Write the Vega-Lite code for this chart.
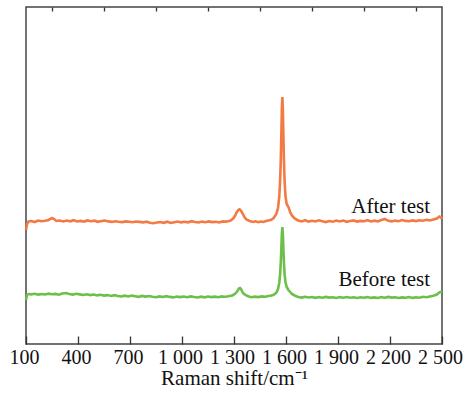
{
  "$schema": "https://vega.github.io/schema/vega-lite/v6.json",
  "width": 416,
  "height": 337,
  "autosize": "none",
  "padding": {"left": 26, "top": 7, "right": 22, "bottom": 50},
  "background": "white",
  "config": {
    "view": {"stroke": "#444444", "strokeWidth": 1.5},
    "font": "Liberation Serif"
  },
  "datasets": {
    "spectra": [
      {"series":"After test","x":100,"y":114},{"series":"After test","x":106,"y":120},{"series":"After test","x":115,"y":122.5},{"series":"After test","x":130,"y":123},{"series":"After test","x":150,"y":122},{"series":"After test","x":170,"y":123.5},{"series":"After test","x":190,"y":122.8},{"series":"After test","x":210,"y":123.2},{"series":"After test","x":230,"y":124},{"series":"After test","x":250,"y":126},{"series":"After test","x":262,"y":125},{"series":"After test","x":275,"y":123},{"series":"After test","x":295,"y":123.5},{"series":"After test","x":315,"y":122.6},{"series":"After test","x":335,"y":123.4},{"series":"After test","x":355,"y":122.7},{"series":"After test","x":375,"y":123.8},{"series":"After test","x":395,"y":122.5},{"series":"After test","x":415,"y":123.1},{"series":"After test","x":435,"y":122.4},{"series":"After test","x":455,"y":123.6},{"series":"After test","x":475,"y":122.8},{"series":"After test","x":495,"y":123.3},{"series":"After test","x":515,"y":122.2},{"series":"After test","x":535,"y":122.9},{"series":"After test","x":555,"y":123.5},{"series":"After test","x":575,"y":122.6},{"series":"After test","x":595,"y":122.1},{"series":"After test","x":615,"y":122.8},{"series":"After test","x":635,"y":122.3},{"series":"After test","x":655,"y":121.9},{"series":"After test","x":675,"y":122.6},{"series":"After test","x":695,"y":122.2},{"series":"After test","x":715,"y":121.8},{"series":"After test","x":735,"y":122.5},{"series":"After test","x":755,"y":122.1},{"series":"After test","x":775,"y":121.6},{"series":"After test","x":795,"y":122.3},{"series":"After test","x":815,"y":121.2},{"series":"After test","x":835,"y":120.8},{"series":"After test","x":855,"y":121.5},{"series":"After test","x":875,"y":121.9},{"series":"After test","x":895,"y":121.2},{"series":"After test","x":915,"y":122.3},{"series":"After test","x":935,"y":121.0},{"series":"After test","x":955,"y":121.8},{"series":"After test","x":975,"y":122.5},{"series":"After test","x":995,"y":121.6},{"series":"After test","x":1015,"y":122.2},{"series":"After test","x":1035,"y":121.7},{"series":"After test","x":1055,"y":122.8},{"series":"After test","x":1075,"y":122.0},{"series":"After test","x":1095,"y":121.5},{"series":"After test","x":1115,"y":122.4},{"series":"After test","x":1135,"y":121.8},{"series":"After test","x":1155,"y":122.6},{"series":"After test","x":1175,"y":121.9},{"series":"After test","x":1195,"y":122.3},{"series":"After test","x":1215,"y":121.6},{"series":"After test","x":1235,"y":122.6},{"series":"After test","x":1250,"y":122.4},{"series":"After test","x":1260,"y":122.5},{"series":"After test","x":1280,"y":123.5},{"series":"After test","x":1295,"y":125.5},{"series":"After test","x":1305,"y":128},{"series":"After test","x":1315,"y":131.5},{"series":"After test","x":1325,"y":134},{"series":"After test","x":1332,"y":134.7},{"series":"After test","x":1340,"y":133.5},{"series":"After test","x":1350,"y":130.5},{"series":"After test","x":1360,"y":127},{"series":"After test","x":1372,"y":124.5},{"series":"After test","x":1390,"y":123},{"series":"After test","x":1410,"y":122},{"series":"After test","x":1425,"y":122.7},{"series":"After test","x":1440,"y":121.8},{"series":"After test","x":1455,"y":122.5},{"series":"After test","x":1470,"y":122.0},{"series":"After test","x":1485,"y":123},{"series":"After test","x":1499,"y":123.6},{"series":"After test","x":1515,"y":124.2},{"series":"After test","x":1529,"y":126},{"series":"After test","x":1544,"y":130},{"series":"After test","x":1554,"y":136},{"series":"After test","x":1561,"y":147},{"series":"After test","x":1566,"y":162.5},{"series":"After test","x":1570,"y":184.5},{"series":"After test","x":1573,"y":208},{"series":"After test","x":1576,"y":234.5},{"series":"After test","x":1579,"y":247},{"series":"After test","x":1582,"y":234.5},{"series":"After test","x":1585,"y":208},{"series":"After test","x":1588,"y":184.5},{"series":"After test","x":1592,"y":162.5},{"series":"After test","x":1597,"y":148},{"series":"After test","x":1604,"y":140},{"series":"After test","x":1614,"y":137},{"series":"After test","x":1624,"y":132},{"series":"After test","x":1634,"y":128.5},{"series":"After test","x":1650,"y":125.5},{"series":"After test","x":1670,"y":123.5},{"series":"After test","x":1690,"y":122.6},{"series":"After test","x":1710,"y":123.8},{"series":"After test","x":1730,"y":122.4},{"series":"After test","x":1750,"y":123.2},{"series":"After test","x":1770,"y":122.5},{"series":"After test","x":1790,"y":123.7},{"series":"After test","x":1810,"y":122.8},{"series":"After test","x":1830,"y":121.9},{"series":"After test","x":1850,"y":123.0},{"series":"After test","x":1870,"y":122.3},{"series":"After test","x":1890,"y":123.4},{"series":"After test","x":1910,"y":122.6},{"series":"After test","x":1930,"y":123.5},{"series":"After test","x":1950,"y":122.2},{"series":"After test","x":1970,"y":122.9},{"series":"After test","x":1990,"y":123.6},{"series":"After test","x":2010,"y":122.4},{"series":"After test","x":2030,"y":123.1},{"series":"After test","x":2050,"y":122.7},{"series":"After test","x":2070,"y":123.8},{"series":"After test","x":2090,"y":122.5},{"series":"After test","x":2110,"y":123.3},{"series":"After test","x":2130,"y":122.6},{"series":"After test","x":2150,"y":123.9},{"series":"After test","x":2170,"y":125.0},{"series":"After test","x":2190,"y":123.2},{"series":"After test","x":2210,"y":122.6},{"series":"After test","x":2230,"y":123.4},{"series":"After test","x":2250,"y":122.8},{"series":"After test","x":2270,"y":123.9},{"series":"After test","x":2290,"y":123.1},{"series":"After test","x":2310,"y":122.7},{"series":"After test","x":2330,"y":123.6},{"series":"After test","x":2350,"y":122.9},{"series":"After test","x":2370,"y":123.8},{"series":"After test","x":2390,"y":123.3},{"series":"After test","x":2410,"y":124.2},{"series":"After test","x":2430,"y":123.6},{"series":"After test","x":2450,"y":124.4},{"series":"After test","x":2470,"y":125.5},{"series":"After test","x":2485,"y":127.5},{"series":"After test","x":2495,"y":126.5},{"series":"After test","x":2500,"y":125},
      {"series":"Before test","x":100,"y":44},{"series":"Before test","x":106,"y":49},{"series":"Before test","x":115,"y":50},{"series":"Before test","x":130,"y":49.6},{"series":"Before test","x":150,"y":50.2},{"series":"Before test","x":170,"y":49.4},{"series":"Before test","x":190,"y":50.0},{"series":"Before test","x":210,"y":49.5},{"series":"Before test","x":230,"y":50.3},{"series":"Before test","x":250,"y":49.7},{"series":"Before test","x":270,"y":50.1},{"series":"Before test","x":290,"y":49.3},{"series":"Before test","x":310,"y":50.5},{"series":"Before test","x":330,"y":51.0},{"series":"Before test","x":350,"y":50.0},{"series":"Before test","x":370,"y":49.4},{"series":"Before test","x":390,"y":50.2},{"series":"Before test","x":410,"y":49.6},{"series":"Before test","x":430,"y":49.0},{"series":"Before test","x":450,"y":49.7},{"series":"Before test","x":470,"y":48.9},{"series":"Before test","x":490,"y":49.5},{"series":"Before test","x":510,"y":48.6},{"series":"Before test","x":530,"y":49.2},{"series":"Before test","x":550,"y":48.4},{"series":"Before test","x":570,"y":48.9},{"series":"Before test","x":590,"y":48.1},{"series":"Before test","x":610,"y":48.8},{"series":"Before test","x":630,"y":48.0},{"series":"Before test","x":650,"y":47.5},{"series":"Before test","x":670,"y":48.3},{"series":"Before test","x":690,"y":47.6},{"series":"Before test","x":710,"y":48.4},{"series":"Before test","x":730,"y":47.8},{"series":"Before test","x":750,"y":47.2},{"series":"Before test","x":770,"y":48.1},{"series":"Before test","x":790,"y":47.4},{"series":"Before test","x":810,"y":48.0},{"series":"Before test","x":830,"y":47.3},{"series":"Before test","x":850,"y":46.8},{"series":"Before test","x":870,"y":47.6},{"series":"Before test","x":890,"y":47.0},{"series":"Before test","x":910,"y":47.8},{"series":"Before test","x":930,"y":47.1},{"series":"Before test","x":950,"y":46.6},{"series":"Before test","x":970,"y":47.4},{"series":"Before test","x":990,"y":46.9},{"series":"Before test","x":1010,"y":47.5},{"series":"Before test","x":1030,"y":46.8},{"series":"Before test","x":1050,"y":47.6},{"series":"Before test","x":1070,"y":47.0},{"series":"Before test","x":1090,"y":46.5},{"series":"Before test","x":1110,"y":47.3},{"series":"Before test","x":1130,"y":46.7},{"series":"Before test","x":1150,"y":47.5},{"series":"Before test","x":1170,"y":46.9},{"series":"Before test","x":1190,"y":47.4},{"series":"Before test","x":1210,"y":46.8},{"series":"Before test","x":1230,"y":47.6},{"series":"Before test","x":1245,"y":47.2},{"series":"Before test","x":1260,"y":47.5},{"series":"Before test","x":1290,"y":48.5},{"series":"Before test","x":1305,"y":50},{"series":"Before test","x":1318,"y":52.5},{"series":"Before test","x":1328,"y":55.5},{"series":"Before test","x":1335,"y":56},{"series":"Before test","x":1343,"y":54},{"series":"Before test","x":1352,"y":51},{"series":"Before test","x":1365,"y":49},{"series":"Before test","x":1385,"y":47.5},{"series":"Before test","x":1400,"y":46.8},{"series":"Before test","x":1420,"y":47.4},{"series":"Before test","x":1440,"y":46.9},{"series":"Before test","x":1460,"y":47.6},{"series":"Before test","x":1480,"y":47.2},{"series":"Before test","x":1499,"y":48},{"series":"Before test","x":1515,"y":48.5},{"series":"Before test","x":1529,"y":49.2},{"series":"Before test","x":1544,"y":51.3},{"series":"Before test","x":1554,"y":55},{"series":"Before test","x":1561,"y":61},{"series":"Before test","x":1566,"y":69.7},{"series":"Before test","x":1570,"y":82},{"series":"Before test","x":1573,"y":95.3},{"series":"Before test","x":1576,"y":110},{"series":"Before test","x":1579,"y":117},{"series":"Before test","x":1582,"y":110},{"series":"Before test","x":1585,"y":95.3},{"series":"Before test","x":1588,"y":82},{"series":"Before test","x":1592,"y":69.7},{"series":"Before test","x":1597,"y":62},{"series":"Before test","x":1604,"y":57},{"series":"Before test","x":1614,"y":54},{"series":"Before test","x":1624,"y":52},{"series":"Before test","x":1634,"y":50},{"series":"Before test","x":1650,"y":48.5},{"series":"Before test","x":1670,"y":47},{"series":"Before test","x":1690,"y":46.4},{"series":"Before test","x":1710,"y":47.2},{"series":"Before test","x":1730,"y":46.5},{"series":"Before test","x":1750,"y":47.0},{"series":"Before test","x":1770,"y":46.2},{"series":"Before test","x":1790,"y":46.9},{"series":"Before test","x":1810,"y":46.3},{"series":"Before test","x":1830,"y":47.1},{"series":"Before test","x":1850,"y":46.4},{"series":"Before test","x":1870,"y":46.8},{"series":"Before test","x":1890,"y":46.1},{"series":"Before test","x":1910,"y":46.9},{"series":"Before test","x":1930,"y":46.3},{"series":"Before test","x":1950,"y":47.0},{"series":"Before test","x":1970,"y":46.2},{"series":"Before test","x":1990,"y":46.7},{"series":"Before test","x":2010,"y":46.0},{"series":"Before test","x":2030,"y":46.8},{"series":"Before test","x":2050,"y":46.3},{"series":"Before test","x":2070,"y":47.0},{"series":"Before test","x":2090,"y":46.1},{"series":"Before test","x":2110,"y":46.6},{"series":"Before test","x":2130,"y":46.0},{"series":"Before test","x":2150,"y":46.9},{"series":"Before test","x":2170,"y":46.3},{"series":"Before test","x":2190,"y":47.1},{"series":"Before test","x":2210,"y":46.4},{"series":"Before test","x":2230,"y":46.8},{"series":"Before test","x":2250,"y":46.0},{"series":"Before test","x":2270,"y":46.6},{"series":"Before test","x":2290,"y":46.2},{"series":"Before test","x":2310,"y":46.9},{"series":"Before test","x":2330,"y":46.1},{"series":"Before test","x":2350,"y":46.7},{"series":"Before test","x":2370,"y":46.3},{"series":"Before test","x":2390,"y":47.2},{"series":"Before test","x":2410,"y":46.8},{"series":"Before test","x":2430,"y":47.5},{"series":"Before test","x":2450,"y":48.2},{"series":"Before test","x":2470,"y":49.5},{"series":"Before test","x":2485,"y":51.5},{"series":"Before test","x":2500,"y":52.5}
    ],
    "labels": [
      {"label": "After test", "x": 2431, "y": 131},
      {"label": "Before test", "x": 2431, "y": 58}
    ]
  },
  "layer": [
    {
      "data": {"name": "spectra"},
      "mark": {"type": "line", "strokeWidth": 2.6, "interpolate": "linear"},
      "encoding": {
        "x": {
          "field": "x", "type": "quantitative",
          "scale": {"domain": [100, 2500], "nice": false, "zero": false},
          "axis": {
            "values": [100, 400, 700, 1000, 1300, 1600, 1900, 2200, 2500],
            "labelExpr": "replace(format(datum.value, ','), ',', ' ')",
            "labelFont": "Liberation Serif", "labelFontSize": 20, "labelColor": "#111111",
            "labelOverlap": false, "labelFlush": false, "labelPadding": 11, "labelOffset": -2,
            "tickSize": -8, "tickColor": "#333333", "tickWidth": 1.3,
            "domain": false, "grid": false,
            "title": "Raman shift/cm⁻¹",
            "titleFont": "Liberation Serif", "titleFontSize": 21, "titleFontWeight": "normal",
            "titleColor": "#111111", "titlePadding": 0
          }
        },
        "y": {
          "field": "y", "type": "quantitative",
          "scale": {"domain": [0, 337], "nice": false, "zero": false},
          "axis": null
        },
        "color": {
          "field": "series", "type": "nominal",
          "scale": {"domain": ["After test", "Before test"], "range": ["#F47A45", "#6CC04A"]},
          "legend": null
        }
      }
    },
    {
      "data": {"name": "labels"},
      "mark": {"type": "text", "align": "right", "baseline": "alphabetic", "font": "Liberation Serif", "fontSize": 21, "color": "#111111"},
      "encoding": {
        "x": {
          "field": "x", "type": "quantitative",
          "scale": {"domain": [100, 2500], "nice": false, "zero": false},
          "axis": {
            "values": [250, 550, 850, 1150, 1450, 1750, 2050, 2350],
            "labels": false, "tickSize": -4, "tickColor": "#333333", "tickWidth": 1.3,
            "domain": false, "grid": false, "title": null
          }
        },
        "y": {"field": "y", "type": "quantitative", "scale": {"domain": [0, 337], "nice": false, "zero": false}, "axis": null},
        "text": {"field": "label", "type": "nominal"}
      }
    }
  ],
  "resolve": {"axis": {"x": "independent"}}
}
